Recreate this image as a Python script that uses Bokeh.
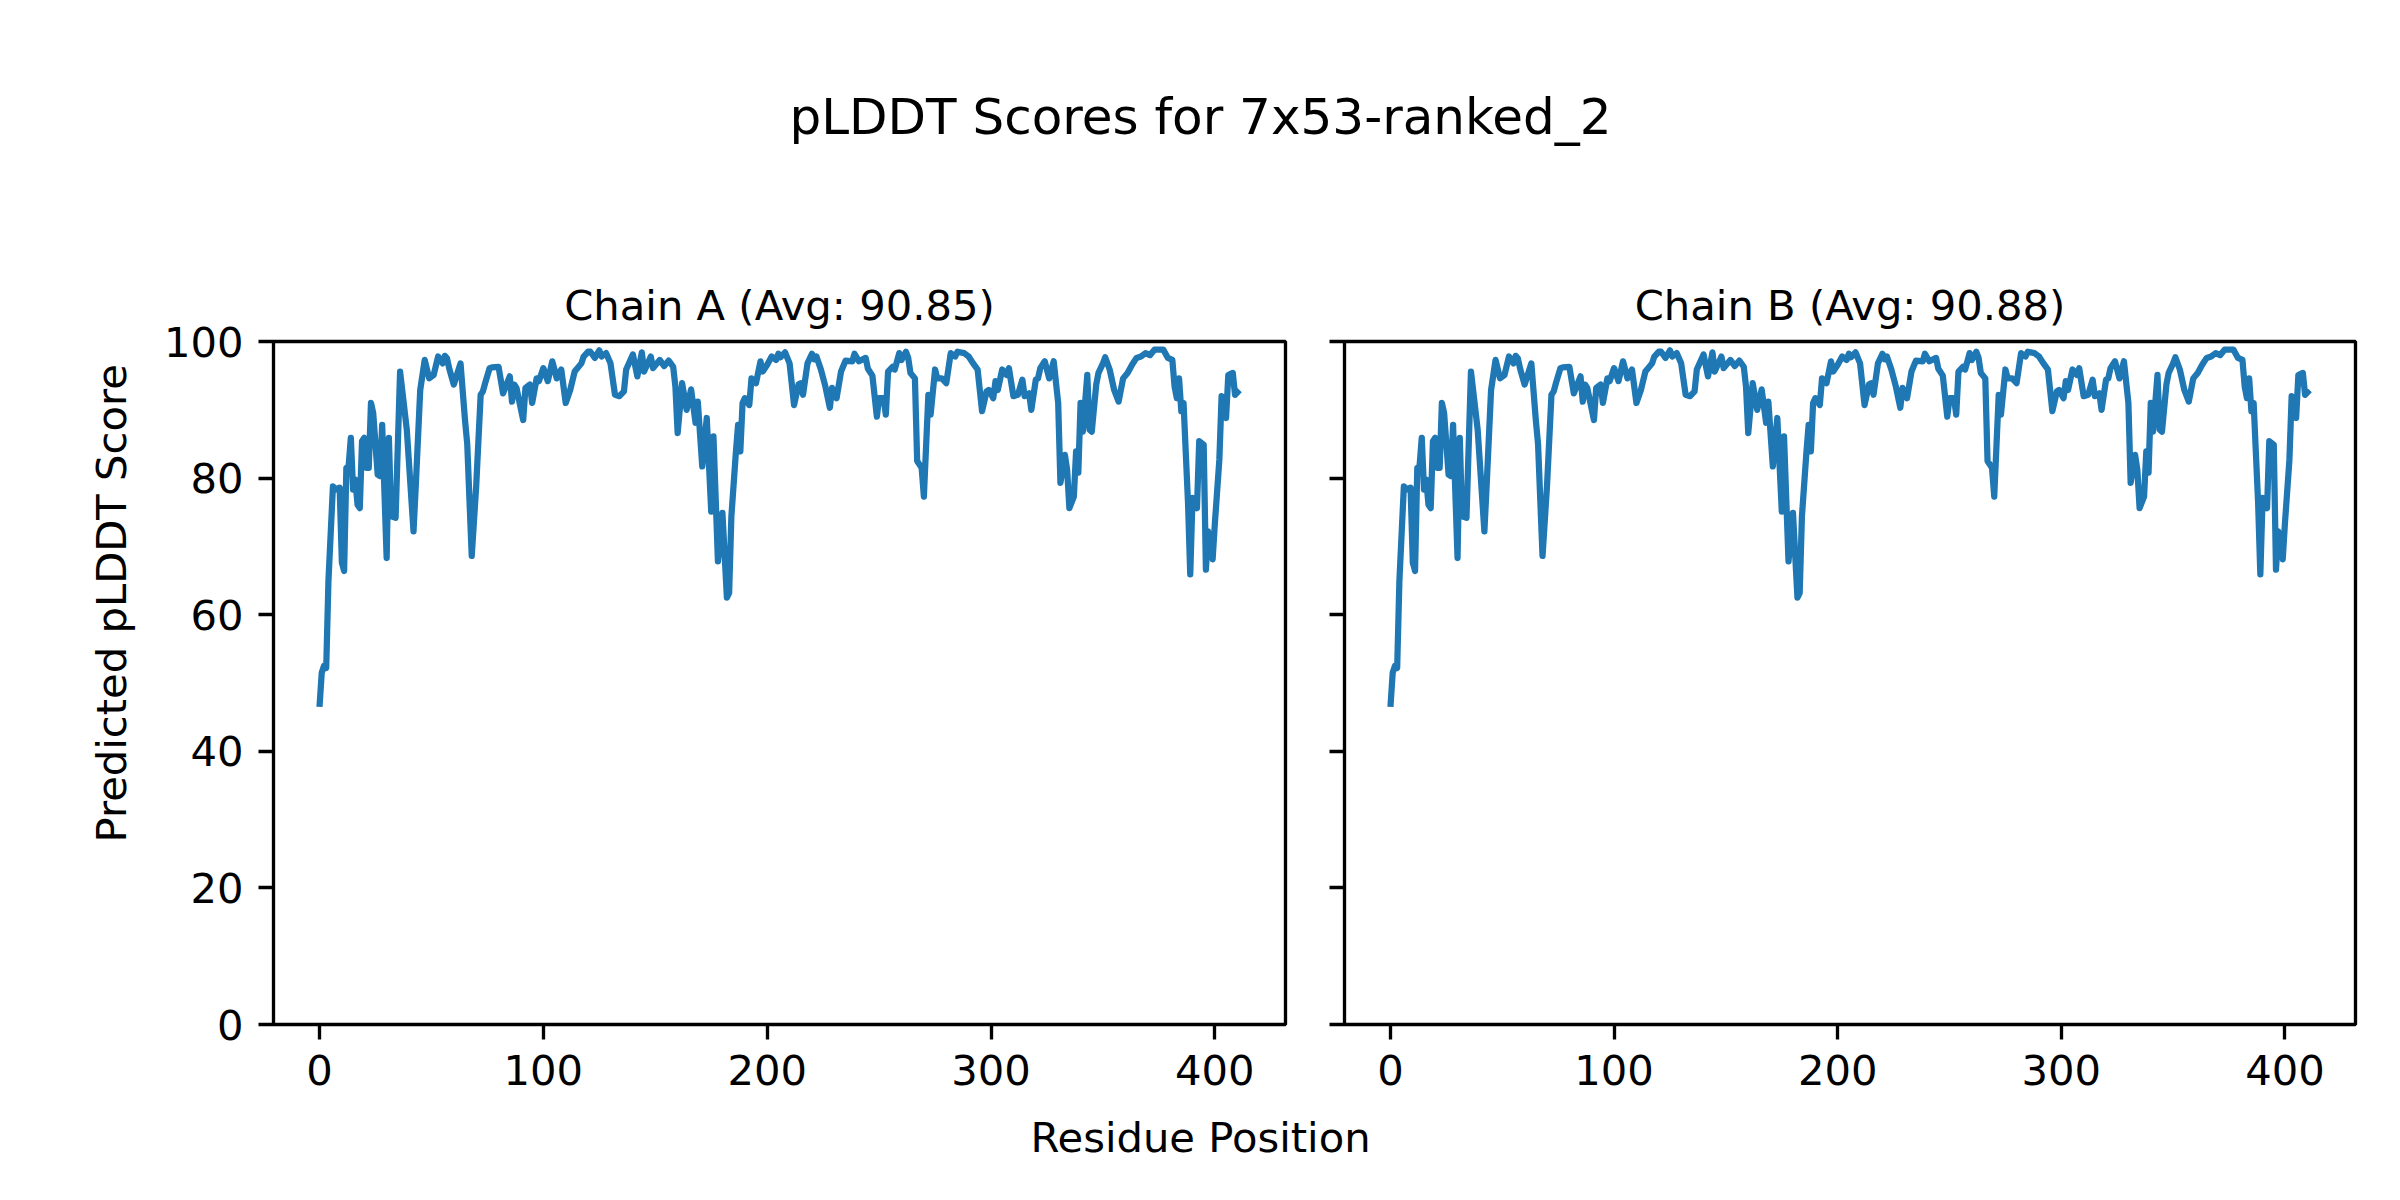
import math
from bokeh.plotting import figure
from bokeh.layouts import row, column
from bokeh.models import Range1d, FixedTicker, CustomJSTickFormatter, ColumnDataSource, Title
from bokeh.core.properties import value
from bokeh.embed import file_html
from bokeh.resources import INLINE

FONT = "DejaVu Sans"

suptitle = "pLDDT Scores for 7x53-ranked_2"
x_label = "Residue Position"
y_label = "Predicted pLDDT Score"
chain_titles = ["Chain A (Avg: 90.85)", "Chain B (Avg: 90.88)"]
x_ticks = [0, 100, 200, 300, 400]
y_ticks = [0, 20, 40, 60, 80, 100]

# residue positions (vertices) and pLDDT scores
chain_a_residues = [
    0, 1, 2, 3, 4, 6, 7, 9, 10, 11, 12, 13, 14, 15, 16, 17, 18, 19, 20, 21,
    22, 23, 24, 26, 27, 28, 30, 31, 32, 34, 36, 39, 42, 43, 45, 47, 49, 51, 53, 55,
    56, 57, 58, 60, 63, 65, 66, 68, 70, 72, 73, 74, 76, 77, 80, 82, 85, 86, 87, 88,
    91, 92, 94, 95, 97, 98, 100, 102, 104, 106, 108, 110, 112, 114, 117, 118, 120, 121, 123, 125,
    126, 128, 130, 132, 134, 136, 137, 140, 142, 144, 145, 148, 149, 152, 154, 156, 158, 159, 160, 162,
    164, 166, 168, 169, 171, 173, 175, 176, 178, 180, 182, 183, 184, 186, 187, 188, 189, 190, 192, 193,
    195, 197, 198, 200, 202, 204, 205, 206, 208, 210, 212, 214, 215, 216, 218, 220, 221, 222, 224, 226,
    228, 229, 231, 233, 235, 238, 239, 241, 244, 245, 247, 249, 250, 252, 253, 254, 256, 257, 259, 260,
    262, 263, 264, 266, 267, 269, 270, 272, 273, 275, 276, 278, 280, 282, 284, 285, 288, 290, 292, 294,
    296, 298, 299, 301, 302, 303, 305, 307, 308, 310, 312, 314, 315, 317, 318, 320, 321, 322, 324, 326,
    328, 330, 331, 333, 334, 335, 337, 338, 339, 340, 341, 343, 344, 345, 347, 348, 350, 351, 353, 355,
    357, 359, 361, 363, 365, 367, 369, 371, 373, 377, 379, 381, 382, 383, 384, 385, 386, 388, 389, 390,
    392, 393, 395, 396, 397, 399, 400, 402, 403, 405, 406, 408, 409, 411,
]
chain_a_scores = [
    46.5, 51.5, 52.5, 52.2, 65.0, 78.8, 78.3, 78.6, 67.6, 66.4, 81.5, 81.7, 85.9, 78.3, 79.8, 76.1, 75.6, 85.4, 85.9, 81.5,
    81.5, 91.0, 89.5, 80.5, 80.3, 87.8, 68.3, 85.9, 74.4, 74.2, 95.6, 87.1, 72.2, 78.8, 92.9, 97.3, 94.6, 95.1, 97.8, 96.8,
    97.9, 97.5, 96.0, 93.7, 96.8, 88.5, 85.0, 68.6, 78.8, 92.2, 92.7, 93.9, 96.1, 96.2, 96.3, 92.4, 94.9, 91.2, 93.7, 93.2,
    88.5, 93.2, 93.7, 91.0, 94.6, 94.2, 96.1, 94.2, 97.1, 94.6, 95.9, 91.0, 92.9, 95.6, 96.8, 97.8, 98.5, 98.5, 97.6, 98.7,
    97.8, 98.3, 96.8, 92.2, 92.0, 92.7, 95.9, 98.1, 94.9, 98.4, 95.6, 97.8, 96.1, 97.3, 96.4, 97.2, 96.3, 93.4, 86.6, 93.9,
    90.0, 93.0, 88.1, 91.2, 81.7, 88.8, 75.1, 86.1, 67.8, 74.9, 62.5, 63.2, 74.4, 83.7, 87.8, 83.9, 91.0, 91.7, 90.7, 94.6,
    93.9, 97.1, 95.6, 96.6, 97.8, 97.3, 98.2, 97.7, 98.4, 96.8, 90.7, 93.7, 93.9, 92.2, 96.8, 98.2, 97.4, 97.8, 95.9, 93.4,
    90.3, 93.2, 91.7, 95.6, 97.2, 97.1, 98.2, 97.1, 97.6, 96.0, 95.0, 89.0, 91.7, 91.7, 89.3, 95.6, 96.3, 95.9, 98.3, 97.3,
    98.5, 97.6, 95.4, 94.6, 82.5, 81.5, 77.3, 92.2, 89.3, 95.9, 94.6, 94.6, 93.9, 98.3, 97.8, 98.5, 98.3, 97.8, 96.8, 95.9,
    89.8, 92.7, 92.9, 91.7, 94.2, 92.9, 95.9, 95.1, 96.1, 92.0, 92.2, 94.4, 92.0, 92.4, 90.0, 94.4, 94.6, 96.1, 97.1, 94.6,
    97.1, 91.0, 79.3, 83.4, 81.2, 75.6, 77.3, 83.9, 80.8, 91.0, 86.8, 95.1, 87.1, 86.8, 93.7, 95.4, 96.8, 97.7, 95.9, 92.9,
    91.2, 94.6, 95.4, 96.6, 97.6, 97.8, 98.3, 98.0, 98.8, 98.8, 97.6, 97.3, 93.4, 91.7, 94.6, 89.8, 91.0, 76.4, 65.9, 77.1,
    75.6, 85.4, 84.9, 66.6, 72.2, 68.1, 73.4, 82.7, 92.0, 88.8, 95.1, 95.4, 92.2, 92.9,
]
chain_b_residues = list(chain_a_residues)
chain_b_scores = list(chain_a_scores)

LINE_COLOR = "#1f77b4"
TICK_PX = "41.7px"
TITLE_PX = "41.7px"
SUPTITLE_PX = "50px"

TOTAL_W = 2392
ROW_H = 900


def strip(width, height, flip):
    yr = Range1d(height, 0) if flip else Range1d(0, height)
    p = figure(width=width, height=height, x_range=Range1d(0, width), y_range=yr,
               toolbar_location=None, output_backend="svg", min_border=0)
    p.axis.visible = False
    p.grid.visible = False
    p.outline_line_color = None
    return p


def add_text(p, x, y, text, size, angle=0.0, baseline="alphabetic"):
    src = ColumnDataSource(dict(x=[x], y=[y], t=[text]))
    p.text(x="x", y="y", text="t", source=src, angle=angle, text_align="center",
           text_baseline=baseline, text_font=value(FONT), text_font_size=size, text_color="black")


def panel(residues, scores, title, width, left, right, show_labels):
    p = figure(width=width, height=ROW_H, x_range=Range1d(-20.55, 431.55), y_range=Range1d(0, 100),
               toolbar_location=None, output_backend="svg",
               min_border_left=left, min_border_right=right, min_border_top=133, min_border_bottom=84)
    p.title = Title(text=title, align="center", text_font=FONT, text_font_size=TITLE_PX,
                    text_font_style="normal", text_color="black", standoff=23)
    p.line(residues, scores, line_color=LINE_COLOR, line_width=6.25, line_join="round")
    p.grid.visible = False
    p.outline_line_color = "black"
    p.outline_line_width = 3.33
    p.background_fill_color = "white"
    p.border_fill_color = "white"
    p.xaxis.ticker = FixedTicker(ticks=x_ticks)
    p.yaxis.ticker = FixedTicker(ticks=y_ticks)
    for ax in (p.xaxis, p.yaxis):
        ax.axis_line_color = None
        ax.major_tick_line_width = 3.33
        ax.major_tick_line_color = "black"
        ax.major_tick_out = 15
        ax.major_tick_in = 0
        ax.minor_tick_line_color = None
        ax.major_label_standoff = 15
        ax.major_label_text_font = FONT
        ax.major_label_text_font_size = TICK_PX
        ax.major_label_text_color = "black"
    if not show_labels:
        p.yaxis.formatter = CustomJSTickFormatter(code="return ''")
    return p


top = strip(TOTAL_W, 208, True)
add_text(top, 1200, 116, suptitle, SUPTITLE_PX)

left = strip(150, ROW_H, False)
add_text(left, 111, ROW_H - 345, y_label, TICK_PX, angle=math.pi / 2)

pa = panel(chain_a_residues, chain_a_scores, chain_titles[0], 1158, 123, 23, True)
pb = panel(chain_b_residues, chain_b_scores, chain_titles[1], 1084, 36, 37, False)

bottom = strip(TOTAL_W, 84, True)
add_text(bottom, 1200, 29, x_label, TICK_PX)

layout = column(top, row(left, pa, pb), bottom)
open("out.html", "w").write(file_html(layout, INLINE))
